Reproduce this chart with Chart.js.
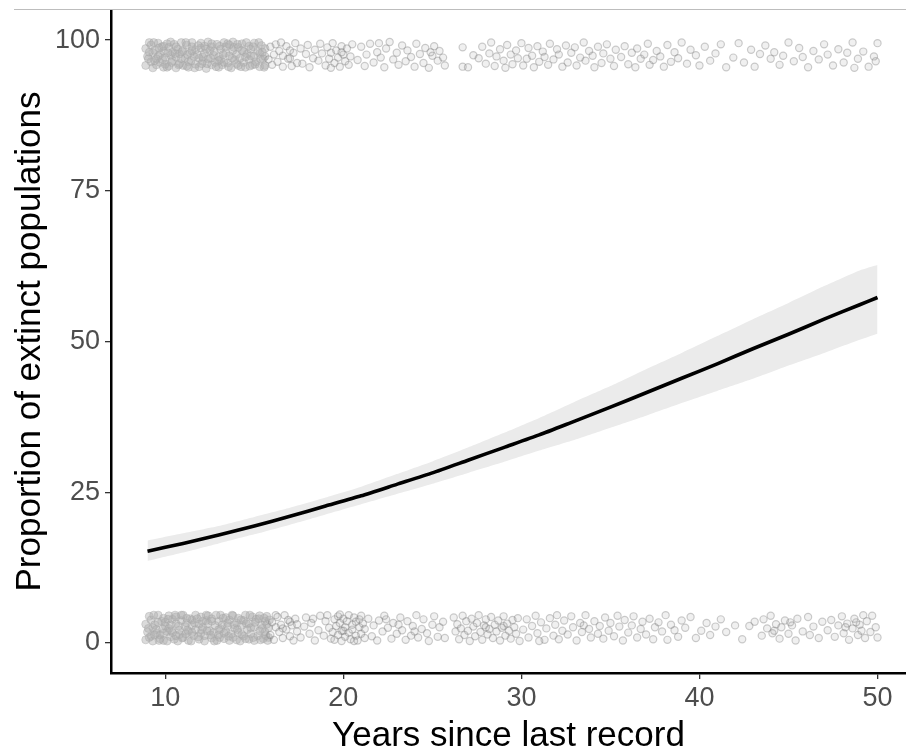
<!DOCTYPE html>
<html>
<head>
<meta charset="utf-8">
<script src="https://cdn.jsdelivr.net/npm/chart.js@4.4.1/dist/chart.umd.min.js"></script>
<style>
  body { margin: 0; background: #fff; }
  #wrap { position: relative; width: 906px; height: 749px; }
  #topline { position: absolute; left: 14px; right: 0; top: 9px; height: 1px; background: #bdbdbd; }
</style>
</head>
<body>
<div id="wrap">
  <canvas id="chart" width="906" height="749"></canvas>
  <div id="topline"></div>
</div>
<script>
// fitted curve + confidence ribbon (percent)
const years = [9, 11, 13, 15, 17, 19, 21, 23, 25, 27, 29, 31, 33, 35, 37, 39, 41, 43, 45, 47, 49, 50];
const fitPct = [15.2, 16.5, 17.9, 19.4, 21.0, 22.7, 24.4, 26.3, 28.2, 30.3, 32.4, 34.5, 36.8, 39.1, 41.5, 43.9, 46.3, 48.8, 51.2, 53.7, 56.1, 57.3];
const lowerPct = [13.6, 15.0, 16.5, 18.0, 19.6, 21.3, 23.0, 24.7, 26.4, 28.2, 30.0, 31.9, 33.7, 35.7, 37.7, 39.8, 41.8, 43.8, 46.0, 48.1, 50.3, 51.3];
const upperPct = [17.0, 18.2, 19.4, 20.9, 22.4, 24.1, 25.9, 28.0, 30.1, 32.4, 34.8, 37.3, 40.0, 42.6, 45.4, 48.1, 50.9, 53.7, 56.4, 59.2, 61.8, 62.7];

const xTicks = [10, 20, 30, 40, 50];
const yTicks = [0, 25, 50, 75, 100];

// raw observations (jittered). extinct = top band, extant = bottom band.
// the 9-16 yr block is so crowded in the original that it prints as solid grey
const extinctDense = [
  [8.9,95.8],[9.0,97.3],[8.9,98.6],[9.1,99.6],[9.2,96.4],[9.3,97.9],[9.2,99.2],[9.3,95.4],
  [9.5,96.9],[9.4,98.3],[9.6,99.5],[9.5,95.9],[9.7,97.6],[9.8,98.9],[9.7,96.3],[9.9,95.5],
  [10.0,97.1],[9.9,98.2],[10.1,99.4],[10.0,96.0],[10.2,95.7],[10.3,97.5],[10.2,98.8],[10.4,96.6],
  [10.5,99.3],[10.4,98.0],[10.6,95.4],[10.6,97.2],[10.8,96.1],[10.7,98.5],[10.9,99.6],[10.8,97.7],
  [11.0,95.8],[11.1,97.0],[11.0,98.3],[11.2,99.2],[11.3,96.4],[11.4,97.9],[11.3,95.5],[11.5,98.9],
  [11.6,97.3],[11.5,99.6],[11.7,96.0],[11.7,98.4],[11.9,95.6],[11.9,97.0],[12.0,98.7],[12.0,99.5],
  [12.1,96.5],[12.2,97.8],[12.3,95.3],[12.2,99.0],[12.4,96.9],[12.5,98.3],[12.4,99.7],[12.6,95.9],
  [12.7,97.5],[12.6,98.9],[12.8,96.3],[12.9,99.3],[13.0,95.5],[13.0,97.2],[13.1,98.5],[13.1,96.8],
  [13.3,99.6],[13.2,95.9],[13.4,97.9],[13.4,98.9],[13.5,96.2],[13.6,97.4],[13.6,99.2],[13.7,95.4],
  [13.8,98.3],[13.9,96.7],[13.8,99.7],[14.0,97.6],[14.1,95.8],[14.1,98.8],[14.2,97.0],[14.3,99.4],
  [14.4,96.3],[14.4,98.1],[14.5,95.5],[14.6,97.7],[14.7,99.0],[14.7,96.8],[14.8,98.5],[14.9,95.9],
  [15.0,97.3],[15.0,99.5],[15.1,96.4],[15.2,98.2],[15.3,95.6],[15.3,97.8],[15.4,99.1],[15.5,96.9],
  [15.6,98.6],[15.6,95.8],
  [9.05,96.9],[9.1,98.0],[9.35,99.6],[9.4,96.6],[9.6,97.3],[9.65,98.7],[9.85,96.8],[9.9,99.0],
  [10.1,95.5],[10.15,97.9],[10.3,99.7],[10.35,96.3],[10.55,97.8],[10.6,98.9],[10.75,95.9],[10.9,96.9],
  [10.95,98.1],[11.15,99.6],[11.2,95.7],[11.25,97.6],[11.45,96.6],[11.5,98.2],[11.65,95.4],[11.8,97.6],
  [11.85,99.1],[12.05,96.1],[12.1,97.2],[12.3,98.5],[12.35,96.1],[12.55,97.0],[12.6,99.4],[12.75,98.1],
  [12.85,95.6],[13.0,96.6],[13.05,99.0],[13.25,97.6],[13.3,96.3],[13.5,99.4],[13.55,95.6],[13.75,97.0],
  [13.85,98.8],[14.0,96.1],[14.05,99.3],[14.25,95.6],[14.3,98.3],[14.5,97.2],[14.55,99.6],[14.75,95.7],
  [14.8,97.4],[14.95,98.9],[15.05,96.0],[15.25,99.6],[15.35,96.9],[15.45,98.0],[15.55,95.5],[15.6,97.3]
];

const extinctSpread = [
  [15.8,96.8],[15.9,98.9],[16.0,95.9],[16.1,97.6],[16.2,99.3],[16.3,96.4],[16.4,98.2],[16.6,95.6],
  [16.6,97.4],[16.8,99.0],[16.9,96.9],[17.0,98.3],[17.1,95.7],[17.2,97.9],[17.3,99.5],[17.4,96.2],
  [16.5,99.6],[17.0,97.0],
  [17.6,98.6],[17.7,96.1],[17.9,97.7],[18.0,99.2],[18.1,95.5],[18.3,97.0],[18.4,98.4],[18.6,96.6],
  [18.7,99.4],[18.8,97.8],[19.0,95.8],[19.1,98.8],[19.2,96.9],[19.3,97.9],[19.4,99.5],[19.5,96.2],
  [19.6,98.3],[19.7,97.1],[19.8,95.6],[19.9,99.0],[20.0,97.6],[20.1,96.5],[20.2,98.6],[20.3,95.9],
  [20.4,97.3],[20.5,99.3],[19.3,95.4],[19.9,98.0],
  [20.8,96.7],[21.0,98.9],[21.2,95.7],[21.3,97.6],[21.5,99.4],[21.7,96.3],[21.9,98.0],[22.1,97.1],
  [22.3,95.5],[22.4,98.6],[22.6,99.7],[22.8,96.8],[23.0,97.9],[23.1,95.9],[23.3,99.1],[23.5,96.5],
  [23.6,98.3],[23.8,97.2],[24.0,95.6],[24.1,99.4],[24.3,97.7],[24.5,96.2],[24.6,98.7],[24.8,95.4],
  [25.0,97.4],[25.1,99.0],[25.3,96.6],[25.4,98.2],[25.6,97.1],[25.7,95.8],[22.0,99.5],[24.9,98.0],
  [26.7,98.8],[26.7,95.6],[27.0,95.5],[27.3,97.5],
  [27.6,97.0],[27.8,98.9],[28.0,96.1],[28.2,97.8],[28.3,99.6],[28.5,95.7],[28.6,97.3],[28.8,98.5],
  [29.0,96.6],[29.1,95.4],[29.2,99.2],[29.4,97.6],[29.5,96.0],[29.7,98.3],[29.8,97.0],[30.0,99.5],
  [30.1,95.8],[30.3,96.9],[30.4,98.7],[30.6,97.4],[30.7,95.5],[30.9,99.0],[31.0,96.4],[31.2,98.1],
  [31.3,97.2],[31.5,95.9],[31.6,99.4],[31.8,96.8],[32.0,98.5],[32.1,97.6],[32.3,95.6],[32.5,99.1],
  [32.6,96.3],[32.8,97.9],[33.0,98.8],[33.1,95.8],[33.3,97.1],[33.5,99.6],[33.6,96.6],[33.8,98.2],
  [34.0,97.4],[34.1,95.5],[34.3,98.9],[34.5,96.2],[34.6,97.8],[34.8,99.3],[35.0,96.9],[35.2,95.7],
  [35.3,98.4],
  [35.6,97.2],[35.8,99.0],[36.0,96.0],[36.2,97.9],[36.4,95.5],[36.5,98.6],[36.7,96.9],[36.9,97.6],
  [37.1,99.4],[37.2,95.9],[37.4,96.7],[37.6,98.2],[37.8,97.3],[38.0,95.6],[38.2,99.2],[38.4,96.4],
  [38.6,98.0],[38.8,97.0],[39.0,99.6],[39.3,96.1],[39.5,98.4],[39.8,97.5],[40.0,95.8],[40.3,98.9],
  [40.6,96.6],[40.9,97.8],[41.2,99.3],[41.5,95.5],
  [41.9,97.1],[42.2,99.5],[42.5,96.3],[42.9,98.4],[43.1,95.6],[43.4,97.7],[43.7,99.1],[44.0,96.9],
  [44.2,98.0],[44.5,95.9],[44.7,97.4],[45.0,99.6],[45.3,96.5],[45.6,98.7],[45.8,97.2],[46.1,95.5],
  [46.4,98.2],[46.7,96.8],[47.0,99.3],[47.2,97.6],[47.5,95.8],[47.8,98.5],[48.1,96.3],[48.3,97.9],
  [48.6,99.6],[48.9,96.9],[49.2,98.1],[49.5,95.6],[49.8,97.3],[50.0,99.5],[49.9,96.5],[48.7,95.4]
];

const extantDense = [
  [8.9,0.5],[9.0,1.8],[8.9,3.1],[9.1,4.4],[9.2,1.1],[9.3,2.5],[9.2,3.8],[9.3,0.3],
  [9.5,1.6],[9.4,3.0],[9.6,4.6],[9.5,2.2],[9.7,0.7],[9.8,3.6],[9.7,1.3],[9.9,4.1],
  [10.0,2.8],[9.9,0.4],[10.1,1.9],[10.0,3.4],[10.2,4.5],[10.3,1.0],[10.2,2.4],[10.4,3.9],
  [10.5,0.6],[10.4,1.7],[10.6,3.2],[10.6,4.3],[10.8,2.1],[10.7,0.3],[10.9,3.7],[10.8,1.4],
  [11.0,4.6],[11.1,2.7],[11.0,0.9],[11.2,3.3],[11.3,1.9],[11.4,4.0],[11.3,0.4],[11.5,2.9],
  [11.6,1.2],[11.5,3.8],[11.7,4.6],[11.7,2.2],[11.9,0.6],[11.9,3.1],[12.0,1.6],[12.0,4.3],
  [12.1,2.6],[12.2,0.3],[12.3,3.7],[12.2,1.2],[12.4,4.5],[12.5,2.0],[12.4,3.2],[12.6,0.8],
  [12.7,1.7],[12.6,4.0],[12.8,2.9],[12.9,0.4],[13.0,3.6],[13.0,1.3],[13.1,4.6],[13.1,2.3],
  [13.3,0.7],[13.2,3.0],[13.4,1.9],[13.4,4.2],[13.5,2.8],[13.6,0.4],[13.6,3.8],[13.7,1.5],
  [13.8,4.5],[13.9,2.4],[13.8,0.9],[14.0,3.3],[14.1,1.7],[14.1,4.1],[14.2,0.3],[14.3,2.9],
  [14.4,1.1],[14.4,3.7],[14.5,4.6],[14.6,2.2],[14.7,0.6],[14.7,3.2],[14.8,1.5],[14.9,4.3],
  [15.0,2.6],[15.0,0.4],[15.1,3.9],[15.2,1.2],[15.3,2.0],[15.3,4.5],[15.4,3.0],[15.5,0.7],
  [15.6,1.8],[15.6,3.6],[15.7,4.4],[15.8,2.5],[15.8,0.9],[15.7,3.1],
  [9.05,2.4],[9.1,0.9],[9.35,4.6],[9.4,1.3],[9.6,3.4],[9.65,0.4],[9.85,2.3],[9.9,1.6],
  [10.1,0.3],[10.15,3.9],[10.3,3.0],[10.35,2.0],[10.55,4.6],[10.6,1.2],[10.75,2.8],[10.9,4.6],
  [10.95,0.8],[11.15,1.5],[11.2,4.1],[11.25,2.1],[11.45,0.3],[11.5,1.7],[11.65,3.3],[11.8,4.0],
  [11.85,1.0],[12.05,2.2],[12.1,3.6],[12.3,4.6],[12.35,2.0],[12.55,1.3],[12.6,3.6],[12.75,0.3],
  [12.85,4.6],[13.0,2.2],[13.05,0.9],[13.25,4.1],[13.3,1.6],[13.5,3.3],[13.55,1.1],[13.75,4.6],
  [13.85,3.0],[14.0,0.5],[14.05,2.2],[14.25,3.8],[14.3,1.4],[14.5,0.7],[14.55,3.2],[14.75,4.6],
  [14.8,2.5],[14.95,0.9],[15.05,3.4],[15.25,4.0],[15.35,0.5],[15.45,2.4],[15.55,4.1],[15.65,1.2],
  [15.75,0.4],[15.85,3.8]
];

const extantSpread = [
  [15.9,1.3],[16.0,3.4],[16.1,0.5],[16.2,2.6],[16.3,4.3],[16.4,1.8],[16.5,3.0],[16.6,0.8],
  [16.7,4.6],[16.8,2.2],[16.9,3.8],[17.0,1.1],[17.1,2.9],[17.2,0.4],[17.3,4.0],[17.4,1.9],
  [16.6,2.4],[17.0,3.5],[16.2,4.6],[17.4,3.1],
  [17.6,0.9],[17.8,2.7],[17.9,4.2],[18.1,1.5],[18.2,3.3],[18.4,0.4],[18.6,2.1],[18.7,4.5],
  [18.9,1.2],[19.0,3.6],[19.2,2.5],[19.3,0.7],[18.3,4.0],[19.1,4.6],
  [19.4,1.8],[19.5,3.9],[19.5,0.5],[19.6,2.8],[19.7,4.4],[19.7,1.3],[19.8,3.3],[19.9,2.0],
  [19.9,0.3],[20.0,4.0],[20.1,2.6],[20.1,1.0],[20.2,3.6],[20.3,4.6],[20.3,1.7],[20.4,0.6],
  [20.5,3.0],[20.5,2.2],[20.6,4.2],[20.7,1.2],[20.7,3.5],[20.8,0.4],[20.9,2.6],[21.0,4.5],
  [21.0,1.5],[21.1,3.2],[21.2,0.8],[21.2,2.3],[20.0,2.0],[20.6,0.3],[19.8,4.7],[20.9,3.9],
  [21.4,4.0],[21.6,1.1],[21.7,2.9],[21.9,0.4],[22.0,3.7],[22.2,1.9],[22.3,4.5],[22.5,2.5],
  [22.7,0.7],[22.8,3.3],[23.0,1.5],[23.2,4.2],[23.3,2.1],[23.5,0.5],[23.6,3.6],[23.8,1.2],
  [23.9,2.8],[24.1,4.6],[24.2,0.9],[24.4,2.3],[24.5,3.9],[24.7,1.6],[24.8,0.3],[25.0,3.0],
  [25.1,4.4],[25.3,1.0],[25.4,2.6],[23.1,3.0],[24.0,1.9],[22.4,3.9],
  [25.6,3.5],[25.7,0.8],[26.2,4.2],[26.3,1.9],
  [26.4,3.1],[26.5,0.6],[26.6,2.4],[26.7,4.5],[26.8,1.3],[26.9,3.6],[27.0,2.0],[27.1,0.3],
  [27.2,4.0],[27.3,2.7],[27.4,1.1],[27.5,3.3],[27.6,4.6],[27.7,1.8],[27.8,0.5],[27.9,2.9],
  [28.0,3.9],[28.1,1.4],[28.2,2.3],[28.3,4.3],[28.4,0.8],[28.5,3.0],[28.6,1.9],[28.7,3.7],
  [28.8,0.4],[28.9,2.5],[29.0,4.4],[29.1,1.2],[29.2,3.2],[29.3,2.0],[29.4,0.7],[29.5,3.8],
  [29.6,2.6],[29.7,1.5],[29.8,4.1],[29.9,0.3],[28.0,2.6],[29.0,2.8],
  [30.1,2.2],[30.3,3.9],[30.4,0.9],[30.6,2.8],[30.8,4.5],[30.9,1.6],[31.1,3.4],[31.3,0.5],
  [31.4,2.4],[31.6,4.1],[31.8,1.2],[31.9,3.0],[32.1,0.6],[32.3,2.0],[32.4,3.7],[32.6,1.4],
  [32.8,4.4],[32.9,2.6],[33.1,0.4],[33.3,3.3],[33.4,1.8],[33.6,4.6],[33.8,2.3],[33.9,0.9],
  [34.1,3.6],[34.3,1.5],[31.0,0.3],[32.0,4.6],[33.5,2.9],[34.4,2.8],
  [34.6,0.7],[34.7,4.2],[34.9,2.0],[35.0,3.3],[35.2,1.1],[35.4,4.5],[35.5,2.7],[35.7,0.4],
  [35.8,3.8],[36.0,1.7],[36.2,2.9],[36.3,4.4],[36.5,0.9],[36.7,2.3],[36.8,3.5],[37.0,1.4],
  [37.2,4.0],[37.4,0.6],[37.5,2.6],[37.7,3.4],[37.9,1.9],[38.1,4.6],[38.2,0.5],[38.4,3.0],
  [38.6,2.1],[38.8,1.0],[39.0,3.7],[39.2,2.5],[39.5,4.3],[39.8,0.8],[40.1,2.0],[40.4,3.3],
  [40.6,1.3],[40.9,2.7],[41.2,3.9],[41.5,1.8],
  [42.0,2.9],[42.4,0.6],[42.8,2.8],[43.1,3.5],
  [43.5,1.2],[43.6,3.9],[43.8,2.4],[44.0,4.5],[44.1,1.6],[44.3,3.1],[44.5,0.7],[44.6,2.6],
  [44.8,3.7],[45.0,1.5],[45.2,2.9],[45.4,0.4],[45.5,4.0],[44.2,2.0],[45.1,3.4],
  [45.8,1.9],[46.1,4.3],[46.4,2.7],[46.7,0.8],[46.9,3.5],[46.2,1.3],
  [47.2,2.1],[47.4,3.8],[47.6,1.0],[47.8,2.9],[48.0,4.4],[48.1,1.6],[48.3,3.2],[48.4,0.5],
  [48.6,2.4],[48.7,4.0],[48.9,1.3],[49.0,3.0],[49.1,2.0],[49.3,0.8],[49.4,3.6],[49.6,1.8],
  [49.7,4.5],[49.9,2.6],[50.0,0.9],[48.2,2.6],[48.8,3.4],[49.2,4.6]
];

const FONT = "'Liberation Sans', Arial, sans-serif";

const toXY = (xs, ys) => xs.map((x, i) => ({ x: x, y: ys[i] }));
const pts = arr => arr.map(p => ({ x: p[0], y: p[1] }));

const spreadStyle = {
  type: 'scatter',
  pointRadius: 3.6,
  pointBorderWidth: 1.2,
  pointBorderColor: 'rgba(120, 120, 120, 0.36)',
  pointBackgroundColor: 'rgba(150, 150, 150, 0.14)',
  showLine: false
};
// stands in for the hundreds of overlapping circles in the crowded block
const denseStyle = {
  type: 'scatter',
  pointRadius: 4,
  pointBorderWidth: 1,
  pointBorderColor: 'rgba(165, 165, 165, 0.4)',
  pointBackgroundColor: 'rgba(175, 175, 175, 0.45)',
  showLine: false
};

// kill the automatic label padding so the plot area matches the original margins
const noPad = scale => {
  scale.paddingTop = 0;
  scale.paddingBottom = 0;
  scale.paddingLeft = 0;
  scale.paddingRight = 0;
};

new Chart(document.getElementById('chart'), {
  type: 'scatter',
  data: {
    datasets: [
      {
        type: 'line',
        label: 'fit',
        data: toXY(years, fitPct),
        borderColor: '#000',
        borderWidth: 3.6,
        pointRadius: 0,
        fill: false,
        tension: 0.2
      },
      {
        type: 'line',
        label: 'upper',
        data: toXY(years, upperPct),
        borderWidth: 0,
        borderColor: 'rgba(0,0,0,0)',
        backgroundColor: '#ebebeb',
        pointRadius: 0,
        fill: '+1',
        tension: 0.2
      },
      {
        type: 'line',
        label: 'lower',
        data: toXY(years, lowerPct),
        borderWidth: 0,
        borderColor: 'rgba(0,0,0,0)',
        pointRadius: 0,
        fill: false,
        tension: 0.2
      },
      { ...spreadStyle, label: 'extinct', data: pts(extinctSpread) },
      { ...spreadStyle, label: 'extant', data: pts(extantSpread) },
      { ...denseStyle, label: 'extinct (9-16 yr)', data: pts(extinctDense) },
      { ...denseStyle, label: 'extant (9-16 yr)', data: pts(extantDense) }
    ]
  },
  options: {
    responsive: false,
    animation: false,
    events: [],
    layout: { autoPadding: false, padding: { top: 10, right: 0, bottom: 0, left: 0 } },
    plugins: {
      legend: { display: false },
      tooltip: { enabled: false }
    },
    scales: {
      x: {
        type: 'linear',
        min: 6.95,
        max: 51.6,
        afterBuildTicks: scale => { scale.ticks = xTicks.map(v => ({ value: v })); },
        afterFit: scale => { scale.height = 76; noPad(scale); },
        border: { color: '#000', width: 2.5 },
        grid: { drawOnChartArea: false, tickLength: 6, tickColor: '#333', lineWidth: 1.3 },
        ticks: { font: { family: FONT, size: 27 }, color: '#4d4d4d', padding: 3, maxRotation: 0 },
        title: {
          display: true,
          text: 'Years since last record',
          font: { family: FONT, size: 35, lineHeight: 1 },
          color: '#000',
          padding: { top: 0, bottom: -5 }
        }
      },
      y: {
        min: -5,
        max: 105,
        afterBuildTicks: scale => { scale.ticks = yTicks.map(v => ({ value: v })); },
        afterFit: scale => { scale.width = 111; noPad(scale); },
        border: { color: '#000', width: 2.5 },
        grid: { drawOnChartArea: false, tickLength: 6, tickColor: '#333', lineWidth: 1.3 },
        ticks: { font: { family: FONT, size: 27 }, color: '#4d4d4d', padding: 5 },
        title: {
          display: true,
          text: 'Proportion of extinct populations',
          font: { family: FONT, size: 35, lineHeight: 1 },
          color: '#000',
          padding: { top: 13, bottom: 0 }
        }
      }
    }
  }
});
</script>
</body>
</html>
